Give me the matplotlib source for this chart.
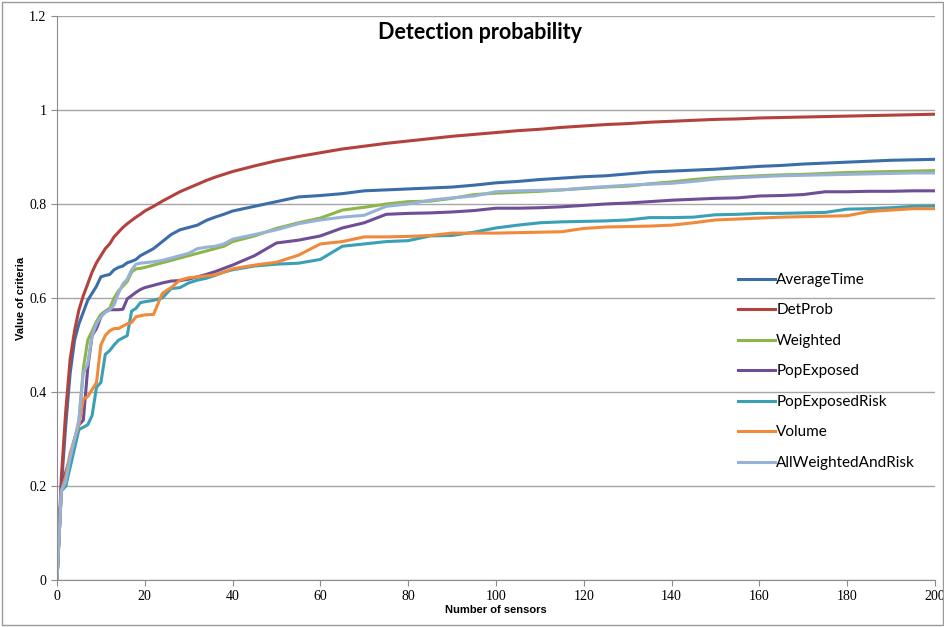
import matplotlib
matplotlib.use("Agg")
import matplotlib.pyplot as plt
from matplotlib.patches import Rectangle

# number of sensors (sampled)
x = list(range(0, 21)) + list(range(22, 41, 2)) + list(range(45, 201, 5))

det_prob = [0.0, 0.22, 0.36, 0.47, 0.53, 0.575, 0.605, 0.63, 0.655, 0.675, 0.69, 0.705, 0.715, 0.73, 0.74, 0.75,
            0.758, 0.765, 0.772, 0.778, 0.785,
            0.795, 0.806, 0.816, 0.826, 0.834, 0.842, 0.85, 0.857, 0.863, 0.869,
            0.881, 0.892, 0.901, 0.909, 0.917, 0.923, 0.929, 0.934, 0.939, 0.944, 0.948, 0.952, 0.956, 0.959,
            0.963, 0.966, 0.969, 0.971, 0.974, 0.976, 0.978, 0.98, 0.981, 0.983, 0.984, 0.985, 0.986, 0.987,
            0.988, 0.989, 0.99, 0.991]
average_time = [0, 0.2, 0.33, 0.44, 0.51, 0.545, 0.57, 0.595, 0.61, 0.625, 0.645, 0.648, 0.65, 0.66, 0.665, 0.668,
                0.675, 0.678, 0.682, 0.69, 0.695,
                0.705, 0.72, 0.735, 0.745, 0.75, 0.755, 0.765, 0.772, 0.778, 0.785,
                0.795, 0.805, 0.815, 0.818, 0.822, 0.828, 0.83, 0.832, 0.834, 0.836, 0.84, 0.845, 0.848, 0.852,
                0.855, 0.858, 0.86, 0.864, 0.868, 0.87, 0.872, 0.874, 0.877, 0.88, 0.882, 0.885, 0.887, 0.889,
                0.891, 0.893, 0.894, 0.895]
weighted = [0, 0.19, 0.2, 0.25, 0.29, 0.34, 0.45, 0.51, 0.53, 0.55, 0.565, 0.572, 0.578, 0.6, 0.615, 0.625,
            0.635, 0.655, 0.662, 0.663, 0.665,
            0.67, 0.675, 0.68, 0.685, 0.69, 0.695, 0.70, 0.705, 0.71, 0.72,
            0.732, 0.748, 0.76, 0.77, 0.787, 0.793, 0.80, 0.805, 0.806, 0.812, 0.82, 0.823, 0.825, 0.827,
            0.83, 0.833, 0.836, 0.838, 0.843, 0.847, 0.852, 0.856, 0.858, 0.86, 0.862, 0.863, 0.865, 0.867,
            0.868, 0.869, 0.87, 0.871]
pop_exposed = [0, 0.2, 0.23, 0.26, 0.3, 0.33, 0.34, 0.45, 0.52, 0.535, 0.56, 0.57, 0.575, 0.575, 0.575, 0.576,
               0.598, 0.605, 0.612, 0.618, 0.622,
               0.627, 0.632, 0.636, 0.637, 0.64, 0.645, 0.65, 0.656, 0.663, 0.67,
               0.69, 0.717, 0.723, 0.732, 0.749, 0.76, 0.778, 0.78, 0.781, 0.783, 0.786, 0.791, 0.791, 0.792,
               0.794, 0.797, 0.80, 0.802, 0.805, 0.808, 0.81, 0.812, 0.813, 0.817, 0.818, 0.82, 0.826, 0.826,
               0.827, 0.827, 0.828, 0.828]
pop_exposed_risk = [0, 0.19, 0.2, 0.24, 0.28, 0.32, 0.325, 0.33, 0.35, 0.41, 0.42, 0.48, 0.488, 0.5, 0.51, 0.515,
                    0.52, 0.572, 0.578, 0.59, 0.592,
                    0.595, 0.6, 0.62, 0.622, 0.632, 0.638, 0.642, 0.648, 0.655, 0.66,
                    0.668, 0.672, 0.674, 0.682, 0.71, 0.715, 0.72, 0.722, 0.732, 0.733, 0.74, 0.749, 0.755, 0.76,
                    0.762, 0.763, 0.764, 0.766, 0.771, 0.771, 0.772, 0.777, 0.778, 0.78, 0.78, 0.781, 0.782, 0.789,
                    0.79, 0.792, 0.795, 0.796]
volume = [0, 0.19, 0.22, 0.27, 0.3, 0.33, 0.385, 0.39, 0.405, 0.42, 0.5, 0.52, 0.53, 0.535, 0.535, 0.54,
          0.545, 0.548, 0.56, 0.562, 0.564,
          0.565, 0.61, 0.622, 0.638, 0.643, 0.645, 0.647, 0.649, 0.655, 0.662,
          0.67, 0.676, 0.691, 0.715, 0.72, 0.73, 0.73, 0.731, 0.733, 0.738, 0.738, 0.738, 0.739, 0.74,
          0.741, 0.748, 0.751, 0.752, 0.753, 0.755, 0.76, 0.766, 0.768, 0.77, 0.772, 0.773, 0.774, 0.775,
          0.784, 0.787, 0.79, 0.79]
all_weighted_risk = [0, 0.19, 0.21, 0.26, 0.3, 0.34, 0.44, 0.46, 0.52, 0.545, 0.56, 0.57, 0.575, 0.585, 0.61, 0.63,
                     0.64, 0.66, 0.672, 0.674, 0.675,
                     0.677, 0.68, 0.685, 0.69, 0.695, 0.705, 0.708, 0.71, 0.715, 0.725,
                     0.735, 0.745, 0.758, 0.766, 0.772, 0.776, 0.795, 0.80, 0.808, 0.813, 0.817, 0.826, 0.828, 0.829,
                     0.83, 0.834, 0.837, 0.84, 0.842, 0.844, 0.848, 0.853, 0.856, 0.858, 0.86, 0.861, 0.862, 0.863,
                     0.864, 0.865, 0.866, 0.866]

series = [
    ("AverageTime", average_time, "#3b6ea8"),
    ("DetProb", det_prob, "#b3423f"),
    ("Weighted", weighted, "#8db64a"),
    ("PopExposed", pop_exposed, "#6e4f95"),
    ("PopExposedRisk", pop_exposed_risk, "#3aa0b6"),
    ("Volume", volume, "#f08a3a"),
    ("AllWeightedAndRisk", all_weighted_risk, "#98b2d6"),
]

fig = plt.figure(figsize=(9.45, 6.27), dpi=100)
ax = fig.add_axes([0.0603, 0.075, 0.929, 0.8995])

for name, vals, col in series:
    ax.plot(x, vals, color=col, lw=2.2, label=name)

ax.set_xlim(0, 200)
ax.set_ylim(0, 1.2)
ax.set_xticks(range(0, 201, 20))
ax.set_yticks([0, 0.2, 0.4, 0.6, 0.8, 1.0, 1.2])
ax.set_yticklabels(["0", "0.2", "0.4", "0.6", "0.8", "1", "1.2"])
ax.yaxis.grid(True, color="#a6a6a6", lw=1)
ax.set_axisbelow(True)
for s in ["top", "right"]:
    ax.spines[s].set_visible(False)
for s in ["left", "bottom"]:
    ax.spines[s].set_color("#8c8c8c")
ax.tick_params(colors="#8c8c8c", length=4, labelcolor="black", labelsize=10)
for lab in ax.get_xticklabels() + ax.get_yticklabels():
    lab.set_family("Liberation Serif")

ax.set_xlabel("Number of sensors", fontsize=8, fontweight="bold", family="Liberation Sans", labelpad=1)
ax.set_ylabel("Value of criteria", fontsize=8, fontweight="bold", family="Liberation Sans", labelpad=2)

ax.text(0.482, 0.97, "Detection probability", transform=ax.transAxes, ha="center", va="center",
        fontsize=15.5, fontweight="bold", family="Lato")

leg = ax.legend(loc="upper left", bbox_to_anchor=(0.767, 0.558), frameon=False,
                handlelength=2.4, handletextpad=0.1, labelspacing=1.08, borderpad=0,
                prop={"family": "Lato", "size": 11})

fig.patches.append(Rectangle((0.002, 0.003), 0.996, 0.994, transform=fig.transFigure,
                             fill=False, edgecolor="#9a9a9a", lw=1))

fig.savefig("out.png", dpi=100)
